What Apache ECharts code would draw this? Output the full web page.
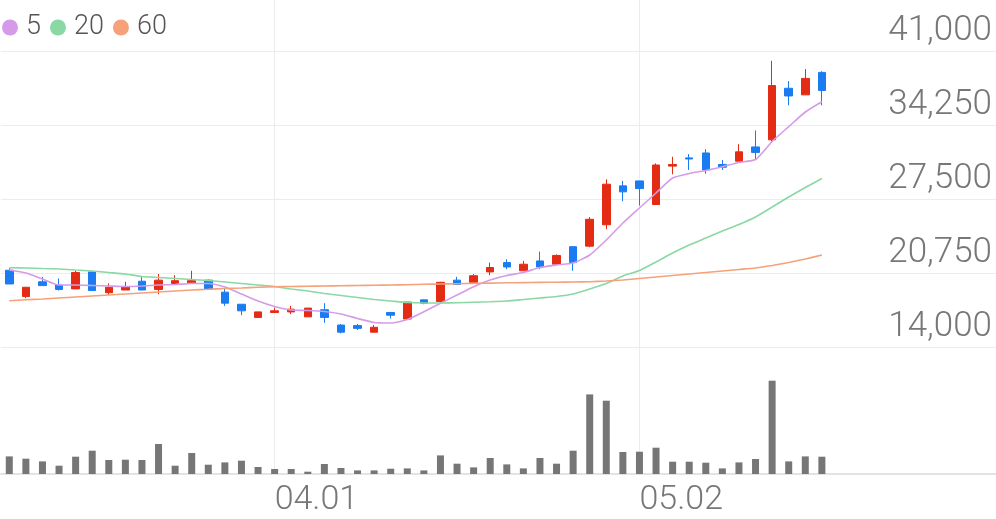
<!DOCTYPE html>
<html>
<head>
<meta charset="utf-8">
<script src="https://cdn.jsdelivr.net/npm/echarts@6/dist/echarts.min.js"></script>
<style>
html,body{margin:0;padding:0;background:#fff;}
#chart{width:996px;height:519px;}
</style>
</head>
<body>
<div id="chart"></div>
<script>
// Trading dates (last 10 are empty future slots on the axis)
const dates = [
  '03.10','03.11','03.12','03.13','03.14','03.17','03.18','03.19','03.20','03.21',
  '03.24','03.25','03.26','03.27','03.28','03.31','04.01','04.02','04.03','04.04',
  '04.07','04.08','04.09','04.10','04.11','04.14','04.15','04.16','04.17','04.18',
  '04.21','04.22','04.23','04.24','04.25','04.28','04.29','04.30','05.02','05.07',
  '05.08','05.09','05.12','05.13','05.14','05.15','05.16','05.19','05.20','05.21',
  '05.22','05.23','05.26','05.27','05.28','05.29','05.30','06.02','06.04','06.05'
];
const shownLabels = ['04.01', '05.02'];

const open  = [21000,18600,19950,19650,19300,20850,18950,19200,20000,19250,
               19800,19850,20100,19000,17900,16700,17150,17200,16750,17400,
               16000,15950,15350,17150,16550,18300,18150,20100,19900,20850,
               21700,20950,21850,21550,23150,23200,25150,28700,29150,27000,
               30500,31250,31700,30650,30950,32250,32900,37600,37000,39050];
const close = [19750,19450,19600,19250,20800,19150,19450,19500,19200,20100,
               20050,20050,19250,18000,17300,17200,17300,17450,17550,16700,
               15350,15700,15800,16900,18100,18000,19900,19700,20500,21250,
               21300,21550,21300,22350,21700,25650,28850,28150,28450,30600,
               30650,31150,30150,30400,31800,31750,37850,36900,38500,37400];
const low   = [19750,18450,19600,19150,19300,19150,18750,19200,19200,18800,
               19700,19750,19250,17750,16900,16700,17150,17000,16750,16200,
               15250,15550,15350,16600,16500,17900,18100,19700,19900,20550,
               21100,20950,21100,21550,20950,23100,24750,27300,26900,27000,
               29750,30150,29800,30150,30950,31050,32650,36050,37000,36050];
const high  = [21200,19450,20400,20250,20950,20850,19800,19950,20400,20650,
               20550,20950,20150,19350,17900,17200,17600,17750,17550,18000,
               16100,16100,16000,17150,18100,18300,19950,20400,20650,21700,
               22000,21850,22700,22450,23150,25850,29300,29150,29150,30750,
               31350,31600,32050,31050,32500,33750,40100,38250,39350,39150];
const volume = [176000,153000,126000,83000,173000,233000,140000,143000,140000,300000,
                83000,210000,93000,116000,133000,70000,50000,50000,23000,100000,
                60000,36000,36000,53000,56000,36000,186000,103000,66000,160000,
                96000,56000,160000,103000,233000,796000,733000,220000,223000,263000,
                123000,123000,113000,56000,116000,150000,933000,126000,176000,173000];
const ma5  = [21024,20750,20203,19655,19655,19610,19564,19518,19564,19655,
              19701,19792,19792,19473,18834,18196,17694,17375,17329,17238,
              17010,16600,16235,16189,16508,17220,17986,18743,19500,20111,
              20522,20796,21252,21480,21662,22392,23760,25311,26679,28047,
              29415,29826,30100,30446,30829,31103,32745,34095,35436,36375];
const ma20 = [21233,21206,21160,21115,21024,20932,20796,20659,20431,20340,
              20248,20157,20066,19929,19792,19655,19518,19291,19108,18880,
              18698,18515,18333,18196,18059,18014,18014,18032,18077,18123,
              18196,18333,18470,18606,18834,19291,19792,20476,20978,21753,
              22574,23304,23943,24581,25174,25858,26770,27682,28549,29370];
const ma60 = [18223,18305,18378,18470,18561,18652,18743,18834,18926,19017,
              19108,19199,19263,19336,19382,19446,19491,19518,19537,19564,
              19582,19610,19628,19655,19683,19719,19747,19774,19801,19829,
              19856,19874,19893,19911,19929,19956,20020,20111,20248,20385,
              20522,20659,20796,20932,21069,21206,21434,21708,22027,22392];
const priceTicks = [14000, 20750, 27500, 34250, 41000];

const UP = '#e42b13', DOWN = '#1a7cf0';
const candleData = open.map((o, i) => [o, close[i], low[i], high[i]]);
const fmt = v => String(v).replace(/\B(?=(\d{3})+(?!\d))/g, ',');

const chart = echarts.init(document.getElementById('chart'), null, {renderer: 'canvas'});
chart.setOption({
  animation: false,
  backgroundColor: '#ffffff',
  textStyle: {fontFamily: 'Roboto'},
  legend: {
    data: ['5', '20', '60'],
    left: 2, top: 14, padding: 0,
    icon: 'circle', itemWidth: 16, itemHeight: 16, itemGap: 9,
    textStyle: {fontSize: 27, color: '#555', fontFamily: 'Roboto', fontWeight: 300, padding: [0, 0, 0, 3]}
  },
  grid: [
    {left: 1, right: 0, top: 51, height: 296},
    {left: 1, right: 0, top: 0, height: 474}
  ],
  xAxis: [
    {type: 'category', gridIndex: 0, data: dates, show: false, boundaryGap: true},
    {type: 'category', gridIndex: 1, data: dates, boundaryGap: true,
     axisLine: {show: true, lineStyle: {color: '#e3e3e3', width: 2}},
     axisTick: {show: false},
     splitLine: {show: false},
     axisLabel: {show: true, fontSize: 34, fontWeight: 300, color: '#777', align: 'left', margin: 9,
                 interval: (idx, val) => shownLabels.indexOf(val) >= 0}}
  ],
  yAxis: [
    {type: 'value', gridIndex: 0, position: 'right', min: priceTicks[0], max: priceTicks[priceTicks.length - 1],
     interval: priceTicks[1] - priceTicks[0],
     axisLine: {show: false}, axisTick: {show: false},
     splitLine: {show: true, lineStyle: {color: '#ececec', width: 1}},
     axisLabel: {inside: true, fontSize: 35, fontWeight: 300, color: '#777', margin: 4, verticalAlign: 'bottom', lineHeight: 40,
                 formatter: v => fmt(v)}},
    {type: 'value', gridIndex: 1, min: 0, max: 4740000, show: false}
  ],
  series: [
    {type: 'candlestick', name: 'price', xAxisIndex: 0, yAxisIndex: 0, data: candleData, barWidth: 8,
     itemStyle: {color: UP, color0: DOWN, borderColor: UP, borderColor0: DOWN, borderWidth: 1}},
    {type: 'line', name: '5', xAxisIndex: 0, yAxisIndex: 0, data: ma5, showSymbol: false, smooth: 0.2,
     lineStyle: {color: '#d59be9', width: 1.6}, itemStyle: {color: '#d59be9'}, z: 3},
    {type: 'line', name: '20', xAxisIndex: 0, yAxisIndex: 0, data: ma20, showSymbol: false, smooth: 0.2,
     lineStyle: {color: '#8ad8a3', width: 1.6}, itemStyle: {color: '#8ad8a3'}, z: 3},
    {type: 'line', name: '60', xAxisIndex: 0, yAxisIndex: 0, data: ma60, showSymbol: false, smooth: 0.2,
     lineStyle: {color: '#f5a17a', width: 1.6}, itemStyle: {color: '#f5a17a'}, z: 3},
    {type: 'bar', name: 'volume', xAxisIndex: 1, yAxisIndex: 1, data: volume, barWidth: 7,
     itemStyle: {color: '#767676'},
     markLine: {silent: true, symbol: ['none', 'none'], z: 1, label: {show: false},
                lineStyle: {color: '#ececec', type: 'solid', width: 1},
                data: shownLabels.map(d => ({xAxis: d}))}}
  ]
});
</script>
</body>
</html>
